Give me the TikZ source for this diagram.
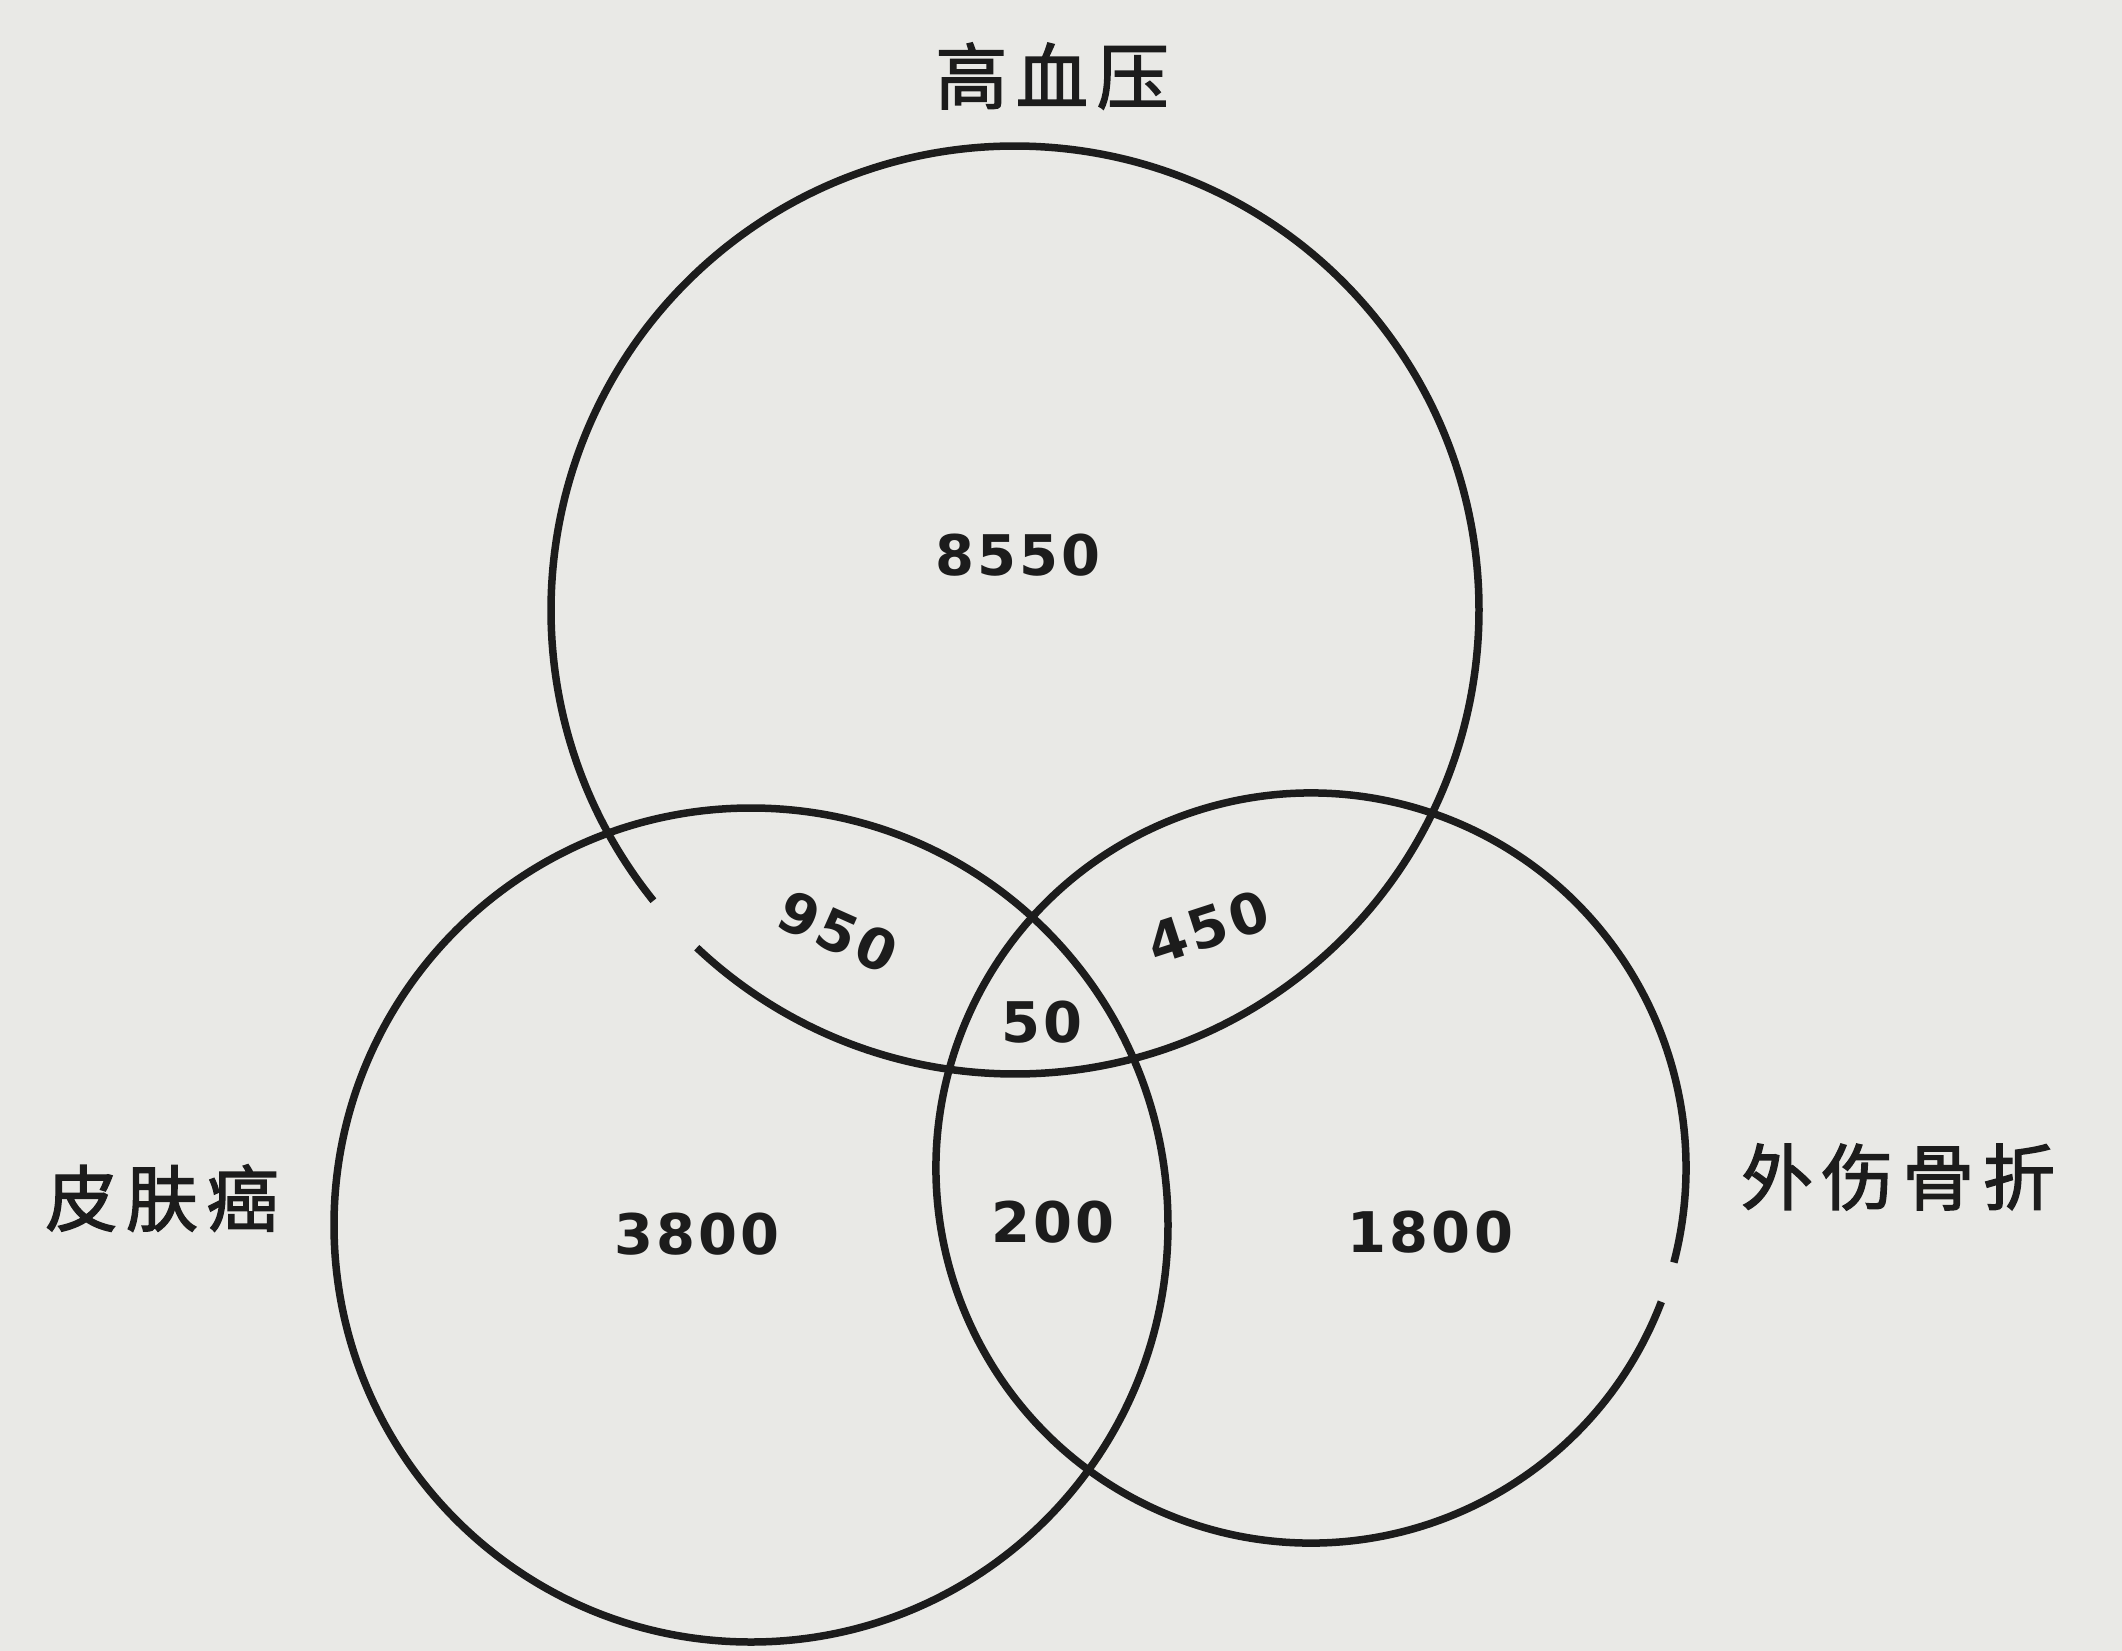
\documentclass[tikz,border=0pt]{standalone}
\usepackage{fontspec}
\newfontfamily\cjk[LetterSpace=12,FakeBold=2]{Noto Sans CJK SC}
\newfontfamily\numf[LetterSpace=6]{DejaVu Sans Bold}
\definecolor{paper}{HTML}{E9E9E6}
\definecolor{ink}{HTML}{1C1C1C}
\begin{document}
\begin{tikzpicture}[x=1pt,y=-1pt,
  ring/.style={draw=ink,line width=7.5pt},
  cat/.style={text=ink,font=\cjk\fontsize{72}{76}\selectfont,inner sep=0pt},
  val/.style={text=ink,font=\numf\fontsize{56}{60}\selectfont,inner sep=0pt}]
\fill[paper] (0,0) rectangle (2122,1651);
\useasboundingbox (0,0) rectangle (2122,1651);
\coordinate (ct) at (1015,610);
\coordinate (cl) at (751,1225);
\coordinate (cr) at (1311,1168);
% circles (with the small breaks of the original)
\draw[ring] (ct) ++(141.2:464) arc[start angle=141.2,end angle=493.3,radius=464];
\draw[ring] (cl) circle[radius=417];
\draw[ring] (cr) ++(20.9:375) arc[start angle=20.9,end angle=374.6,radius=375];
% labels
\node[cat] (hbp) at (1052,76) {高血压};
\node[cat] (skin) at (162,1198) {皮肤癌};
\node[cat] (frac) at (1898,1177) {外伤骨折};
% numbers
\node[val,rotate=-24] (ab) at (838,932) {950};
\node[val,rotate=18] (ac) at (1208,927) {450};
\node[val] (a) at (1018,555) {8550};
\node[val] (abc) at (1042,1022) {50};
\node[val] (b) at (697,1234) {3800};
\node[val] (bc) at (1053,1222) {200};
\node[val] (c) at (1430,1232) {1800};
\end{tikzpicture}
\end{document}
